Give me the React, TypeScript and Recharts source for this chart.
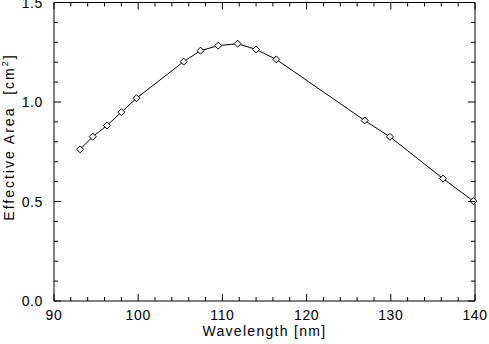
import { LineChart, Line, XAxis, YAxis } from 'recharts';

// wavelength [nm] and effective area [cm^2]
const wavelength = [93.1, 94.6, 96.3, 98.0, 99.8, 105.4, 107.4, 109.5, 111.8, 114.0, 116.4, 126.9, 129.9, 136.2, 139.8];
const effArea = [0.762, 0.826, 0.882, 0.949, 1.019, 1.203, 1.258, 1.283, 1.293, 1.264, 1.214, 0.907, 0.825, 0.615, 0.502];

const xTicks = [90, 92, 94, 96, 98, 100, 102, 104, 106, 108, 110, 112, 114, 116, 118, 120, 122, 124, 126, 128, 130, 132, 134, 136, 138, 140];
const yTicks = [0, 0.1, 0.2, 0.3, 0.4, 0.5, 0.6, 0.7, 0.8, 0.9, 1.0, 1.1, 1.2, 1.3, 1.4, 1.5];

const data = wavelength.map((w, i) => ({ w, a: effArea[i] }));

const FONT = '"Liberation Sans", Arial, Helvetica, sans-serif';
const isMajorX = (v: number) => Math.round(v) % 10 === 0;
const isMajorY = (v: number) => Math.round(v * 10) % 5 === 0;

function BottomTick({ x, y, payload }: any) {
  const major = isMajorX(payload.value);
  return (
    <g>
      <path d={`M${x},${y}V${y - (major ? 7 : 4)}`} stroke="#000" strokeWidth={1} fill="none" />
      {major && (
        <text x={x} y={y + 19} textAnchor="middle" fontSize={14} letterSpacing={0.6} fontFamily={FONT} fill="#000">
          {payload.value}
        </text>
      )}
    </g>
  );
}

function TopTick({ x, y, payload }: any) {
  const major = isMajorX(payload.value);
  return <path d={`M${x},${y}V${y + (major ? 7 : 4)}`} stroke="#000" strokeWidth={1} fill="none" />;
}

function LeftTick({ x, y, payload }: any) {
  const major = isMajorY(payload.value);
  return (
    <g>
      <path d={`M${x},${y}H${x + (major ? 7 : 4)}`} stroke="#000" strokeWidth={1} fill="none" />
      {major && (
        <text x={x - 11} y={y + 5} textAnchor="end" fontSize={14} letterSpacing={0.6} fontFamily={FONT} fill="#000">
          {payload.value.toFixed(1)}
        </text>
      )}
    </g>
  );
}

function RightTick({ x, y, payload }: any) {
  const major = isMajorY(payload.value);
  return <path d={`M${x},${y}H${x - (major ? 7 : 4)}`} stroke="#000" strokeWidth={1} fill="none" />;
}

function Diamond({ cx, cy }: any) {
  if (cx == null || cy == null) return null;
  const r = 3.5;
  return (
    <polygon
      points={`${cx},${cy - r} ${cx + r},${cy} ${cx},${cy + r} ${cx - r},${cy}`}
      fill="#fff"
      stroke="#000"
      strokeWidth={1}
    />
  );
}

function XLabel({ viewBox }: any) {
  const x = viewBox.x + viewBox.width / 2;
  return (
    <text x={x} y={336} textAnchor="middle" fontSize={14} letterSpacing={1.3} fontFamily={FONT} fill="#000">
      Wavelength [nm]
    </text>
  );
}

function YLabel() {
  const x = 14;
  const y = 137;
  return (
    <text x={x} y={y} transform={`rotate(-90 ${x} ${y})`} textAnchor="middle" fontSize={14} letterSpacing={2} fontFamily={FONT} fill="#000">
      Effective Area&#160;&#160;[cm<tspan dy={-6} fontSize={9}>2</tspan><tspan dy={6}>]</tspan>
    </text>
  );
}

export default function App() {
  return (
    <div style={{ position: 'absolute', left: 0, top: 0, background: '#fff' }}>
      <LineChart width={489} height={344} data={data} margin={{ top: 1.5, right: 13, bottom: 0, left: 0 }}>
        <XAxis
          xAxisId="b"
          dataKey="w"
          type="number"
          domain={[90, 140]}
          ticks={xTicks}
          interval={0}
          height={43}
          tickSize={0}
          tickMargin={0}
          tickLine={false}
          tick={<BottomTick />}
          axisLine={{ stroke: '#000' }}
          label={<XLabel />}
        />
        <XAxis
          xAxisId="t"
          dataKey="w"
          type="number"
          domain={[90, 140]}
          ticks={xTicks}
          interval={0}
          orientation="top"
          height={1}
          tickSize={0}
          tickMargin={0}
          tickLine={false}
          tick={<TopTick />}
          axisLine={{ stroke: '#000' }}
        />
        <YAxis
          yAxisId="l"
          type="number"
          domain={[0, 1.5]}
          ticks={yTicks}
          interval={0}
          width={54}
          tickSize={0}
          tickMargin={0}
          tickLine={false}
          tick={<LeftTick />}
          axisLine={{ stroke: '#000' }}
          label={<YLabel />}
        />
        <YAxis
          yAxisId="r"
          type="number"
          domain={[0, 1.5]}
          ticks={yTicks}
          interval={0}
          orientation="right"
          width={1}
          tickSize={0}
          tickMargin={0}
          tickLine={false}
          tick={<RightTick />}
          axisLine={{ stroke: '#000' }}
        />
        {/* invisible copy so the mirrored top/right axes have a series */}
        <Line
          xAxisId="t"
          yAxisId="r"
          dataKey="a"
          stroke="none"
          dot={false}
          activeDot={false}
          isAnimationActive={false}
        />
        <Line
          xAxisId="b"
          yAxisId="l"
          dataKey="a"
          type="linear"
          stroke="#000"
          strokeWidth={1}
          dot={<Diamond />}
          activeDot={false}
          isAnimationActive={false}
        />
      </LineChart>
    </div>
  );
}
